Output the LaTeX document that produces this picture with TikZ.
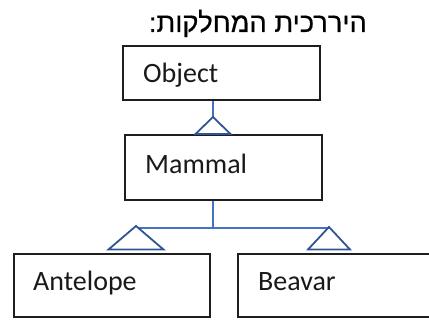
\documentclass[tikz,border=0pt]{standalone}
\usepackage{fontspec}
\setmainfont{Carlito}
\newfontfamily\hebfont[Script=Hebrew,FakeBold=0.6]{Liberation Sans}
\TeXXeTstate=1
\usetikzlibrary{calc}
\definecolor{linkblue}{RGB}{68,114,196}
\definecolor{tipblue}{RGB}{47,85,151}
\definecolor{boxline}{RGB}{30,30,30}
\tikzset{
  classbox/.style={draw=boxline, line width=1.6pt, rectangle, inner sep=0pt, anchor=north west},
  classname/.style={anchor=base west, inner sep=0pt, font=\fontsize{28}{30}\selectfont, text=black!90},
  link/.style={draw=linkblue, line width=1.3pt},
  inherit/.style={draw=tipblue, line width=1.8pt, line join=miter},
}
\begin{document}
\begin{tikzpicture}[x=1pt,y=1pt]
  \useasboundingbox (0,0) rectangle (429,-321);

  % title
  \node[anchor=base east, inner sep=0pt, font=\hebfont\fontsize{27.3}{29}\selectfont] (title) at (367,-32)
    {\beginR היררכית המחלקות:\endR};

  % class boxes
  \node[classbox, minimum width=197pt, minimum height=54pt] (obj) at (122,-45) {};
  \node[classbox, minimum width=197pt, minimum height=65pt] (mam) at (124,-134) {};
  \node[classbox, minimum width=196pt, minimum height=63pt] (ant) at (13,-253) {};
  \node[classbox, minimum width=203pt, minimum height=63pt] (bea) at (237,-253) {};

  \node[classname] (objname) at ($(obj.north west)+(21,-38)$) {Object};
  \node[classname] (mamname) at ($(mam.north west)+(21,-39)$) {Mammal};
  \node[classname] (antname) at ($(ant.north west)+(20,-37)$) {Antelope};
  \node[classname] (beaname) at ($(bea.north west)+(21,-37)$) {Beavar};

  % generalisation tips
  \coordinate (tipobj) at (213,-117);
  \coordinate (tipant) at (136,-226);
  \coordinate (tipbea) at (329,-227);
  \coordinate (fork) at (213,-228);

  % Mammal -> Object
  \draw[link] (tipobj |- obj.south) -- (tipobj);
  \draw[inherit] (tipobj) -- ++(-17.5,-17) -- ++(35,0) -- cycle;

  % Antelope, Beavar -> Mammal
  \draw[link] (fork |- mam.south) -- (fork);
  \draw[link] ($(tipant)+(2,-2)$) -- (tipbea |- fork);
  \draw[inherit] (tipant) -- ++(-27.5,-23.5) -- ++(55,0) -- cycle;
  \draw[inherit] (tipbea) -- ++(-21,-22.5) -- ++(42,0) -- cycle;
\end{tikzpicture}
\end{document}
